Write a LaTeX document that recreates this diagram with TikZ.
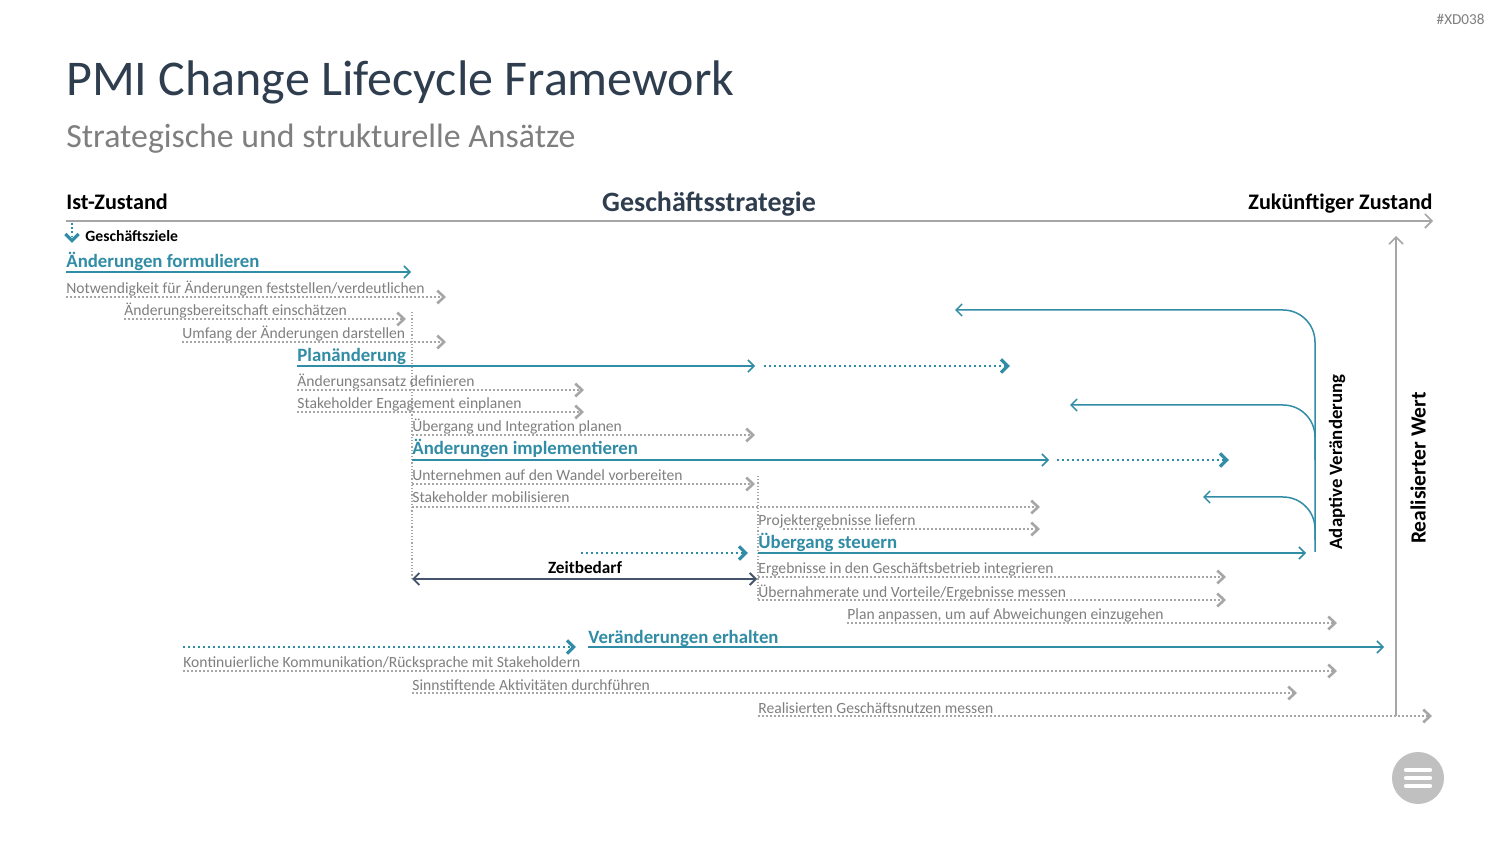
\documentclass[tikz,border=0pt]{standalone}
\usepackage{fontspec}
\setmainfont{Carlito}
\usetikzlibrary{arrows.meta}
\definecolor{tealc}{HTML}{318CA6}
\definecolor{titlec}{HTML}{2F3E4F}
\definecolor{subc}{HTML}{7F7F7F}
\definecolor{txtgray}{HTML}{7F7F7F}
\definecolor{dotgray}{HTML}{A6A6A6}
\definecolor{zeitc}{HTML}{44546A}
\definecolor{menuc}{HTML}{C0C0C0}
\tikzset{
  graytext/.style={anchor=base west, inner sep=0pt, text=txtgray, font=\fontsize{7.8pt}{9pt}\selectfont},
  bluehead/.style={anchor=base west, inner sep=0pt, text=tealc, font=\bfseries\fontsize{9.4pt}{11pt}\selectfont},
  headtext/.style={inner sep=0pt, text=black, font=\bfseries\fontsize{11.1pt}{13pt}\selectfont},
  gdot/.style={draw=dotgray, line width=0.9pt, dash pattern=on 0.9pt off 1.1pt,
    -{Straight Barb[length=3.4pt,width=6.4pt,line width=1.3pt]}},
  tdot/.style={draw=tealc, line width=1.1pt, dash pattern=on 1.1pt off 1.4pt,
    -{Straight Barb[length=3.4pt,width=6.6pt,line width=1.6pt]}},
  tline/.style={draw=tealc, line width=0.75pt, -{Straight Barb[length=3pt,width=6pt,line width=0.75pt]}},
  vdot/.style={draw=dotgray, line width=0.6pt, dash pattern=on 0.6pt off 1pt},
}
\begin{document}
\begin{tikzpicture}[x=0.5pt,y=-0.5pt]
\useasboundingbox (0,0) rectangle (1500,844);
\fill[white] (0,0) rectangle (1500,844);

% header
\node[anchor=base east, inner sep=0pt, text=subc, font=\fontsize{7.6pt}{9pt}\selectfont] (code) at (1485,25) {\#XD038};
\node[anchor=base west, inner sep=0pt, text=titlec, font=\fontsize{25pt}{30pt}\selectfont] (title) at (66,96) {PMI Change Lifecycle Framework};
\node[anchor=base west, inner sep=0pt, text=subc, font=\fontsize{16.9pt}{20pt}\selectfont] (subtitle) at (66,148) {Strategische und strukturelle Ansätze};

\node[headtext, anchor=base west] (ist) at (66,210) {Ist-Zustand};
\node[anchor=base, inner sep=0pt, text=titlec, font=\bfseries\fontsize{14pt}{17pt}\selectfont] (gs) at (709,212) {Geschäftsstrategie};
\node[headtext, anchor=base east] (zuk) at (1433,210) {Zukünftiger Zustand};
\draw[draw=dotgray, line width=0.8pt, -{Straight Barb[length=3.5pt,width=7pt,line width=0.8pt]}] (66,221) -- (1433,221);

% Geschaeftsziele
\draw[tdot, line width=0.9pt, dash pattern=on 0.9pt off 1.2pt] (72,223) -- (72,243);
\node[anchor=base west, inner sep=0pt, text=black, font=\bfseries\fontsize{7.85pt}{9pt}\selectfont] (gz) at (85,242) {Geschäftsziele};

% vertical dotted guides
\draw[vdot] (412,312) -- (412,580);
\draw[vdot] (758,476) -- (758,600);

% Aenderungen formulieren
\node[bluehead] (af) at (66,268) {Änderungen formulieren};
\draw[tline] (66,272) -- (411,272);
\node[graytext] (t1) at (66,294) {Notwendigkeit für Änderungen feststellen/verdeutlichen};
\draw[gdot] (66,297) -- (446,297);
\node[graytext] (t2) at (124,316) {Änderungsbereitschaft einschätzen};
\draw[gdot] (124,319) -- (406,319);
\node[graytext] (t3) at (182,339) {Umfang der Änderungen darstellen};
\draw[gdot] (182,342) -- (446,342);

% Planaenderung
\node[bluehead] (pa) at (297,362) {Planänderung};
\draw[tline] (297,366) -- (755,366);
\draw[tdot] (764,366) -- (1010,366);
\node[graytext] (t4) at (297,387) {Änderungsansatz definieren};
\draw[gdot] (297,390) -- (584,390);
\node[graytext] (t5) at (297,409) {Stakeholder Engagement einplanen};
\draw[gdot] (297,412) -- (584,412);
\node[graytext] (t6) at (412,432) {Übergang und Integration planen};
\draw[gdot] (412,435) -- (755,435);

% Aenderungen implementieren
\node[bluehead] (ai) at (412,455) {Änderungen implementieren};
\draw[tline] (412,460) -- (1049,460);
\draw[tdot] (1057,460) -- (1229,460);
\node[graytext] (t7) at (412,481) {Unternehmen auf den Wandel vorbereiten};
\draw[gdot] (412,484) -- (755,484);
\node[graytext] (t8) at (412,503) {Stakeholder mobilisieren};
\draw[gdot] (412,507) -- (1040,507);
\node[graytext] (t9) at (758,526) {Projektergebnisse liefern};
\draw[gdot] (783,529) -- (1040,529);

% Uebergang steuern
\node[bluehead] (us) at (758,549) {Übergang steuern};
\draw[tline] (758,553) -- (1306,553);
\draw[tdot] (581,553) -- (748,553);
\node[anchor=base, inner sep=0pt, text=black, font=\bfseries\fontsize{8.6pt}{10pt}\selectfont] (zb) at (585,574) {Zeitbedarf};
\draw[draw=zeitc, line width=0.9pt, {Straight Barb[length=3pt,width=6pt,line width=0.9pt]}-{Straight Barb[length=3pt,width=6pt,line width=0.9pt]}] (412,579) -- (757,579);
\node[graytext] (t10) at (758,574) {Ergebnisse in den Geschäftsbetrieb integrieren};
\draw[gdot] (758,577) -- (1226,577);
\node[graytext] (t11) at (758,597) {Übernahmerate und Vorteile/Ergebnisse messen};
\draw[gdot] (758,600) -- (1226,600);
\node[graytext] (t12) at (847,619) {Plan anpassen, um auf Abweichungen einzugehen};
\draw[gdot] (847,623) -- (1337,623);

% Veraenderungen erhalten
\draw[tdot] (183,647) -- (576,647);
\node[bluehead] (ve) at (588,643) {Veränderungen erhalten};
\draw[tline] (588,647) -- (1384,647);
\node[graytext] (t13) at (183,667) {Kontinuierliche Kommunikation/Rücksprache mit Stakeholdern};
\draw[gdot] (183,671) -- (1337,671);
\node[graytext] (t14) at (412,690) {Sinnstiftende Aktivitäten durchführen};
\draw[gdot] (412,693) -- (1297,693);
\node[graytext] (t15) at (758,713) {Realisierten Geschäftsnutzen messen};
\draw[gdot] (758,716) -- (1432,716);

% adaptive change curves
\draw[tline, rounded corners=16pt] (1315,552) |- (955,310);
\draw[tline, rounded corners=16pt] (1315,460) |- (1070,405);
\draw[tline, rounded corners=16pt] (1315,540) |- (1203,497);
\node[rotate=90, inner sep=0pt, text=black, font=\bfseries\fontsize{9.4pt}{11pt}\selectfont] (adv) at (1337,462) {Adaptive Veränderung};

% realised value
\draw[draw=dotgray, line width=1pt, -{Straight Barb[length=3.5pt,width=7pt,line width=0.8pt]}] (1396,716) -- (1396,236);
\node[rotate=90, inner sep=0pt, text=black, font=\bfseries\fontsize{10.8pt}{13pt}\selectfont] (rw) at (1418,468) {Realisierter Wert};

% menu icon
\node[circle, fill=menuc, minimum size=26pt, inner sep=0pt] (menu) at (1418,778) {};
\foreach \yy in {770,778,786}
  \draw[white, line width=2.2pt, line cap=round] (1406,\yy) -- (1430,\yy);
\end{tikzpicture}
\end{document}
